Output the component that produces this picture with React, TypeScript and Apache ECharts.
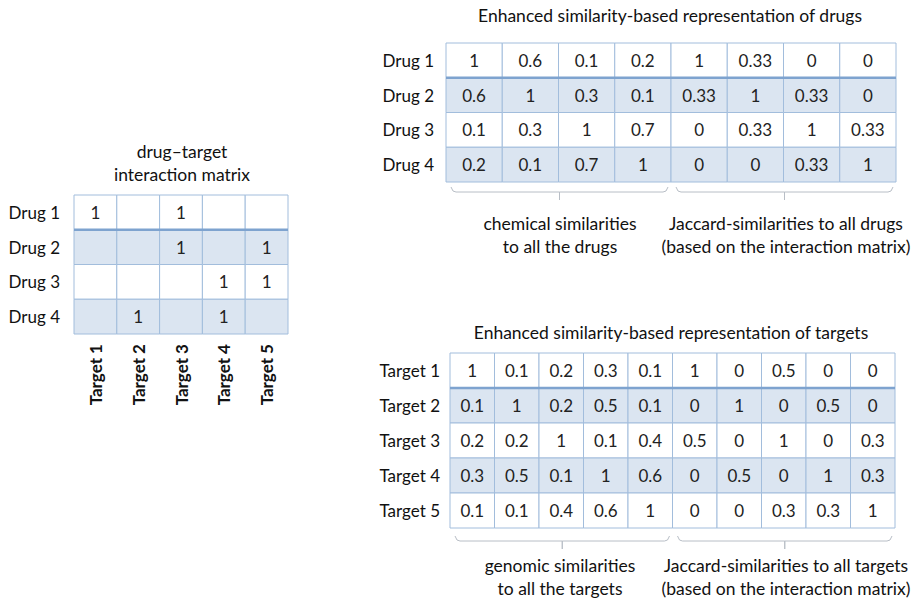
import React, { useEffect, useRef } from 'react';
import * as echarts from 'echarts';

const drugs = ['Drug 1', 'Drug 2', 'Drug 3', 'Drug 4'];
const targets = ['Target 1', 'Target 2', 'Target 3', 'Target 4', 'Target 5'];

// drug-target interaction matrix (0 = no interaction, shown blank)
const interaction = [
  [1, 0, 1, 0, 0],
  [0, 0, 1, 0, 1],
  [0, 0, 0, 1, 1],
  [0, 1, 0, 1, 0],
];

const drugChem = [
  [1, 0.6, 0.1, 0.2],
  [0.6, 1, 0.3, 0.1],
  [0.1, 0.3, 1, 0.7],
  [0.2, 0.1, 0.7, 1],
];
const drugJaccard = [
  [1, 0.33, 0, 0],
  [0.33, 1, 0.33, 0],
  [0, 0.33, 1, 0.33],
  [0, 0, 0.33, 1],
];
const targetGenomic = [
  [1, 0.1, 0.2, 0.3, 0.1],
  [0.1, 1, 0.2, 0.5, 0.1],
  [0.2, 0.2, 1, 0.1, 0.4],
  [0.3, 0.5, 0.1, 1, 0.6],
  [0.1, 0.1, 0.4, 0.6, 1],
];
const targetJaccard = [
  [1, 0, 0.5, 0, 0],
  [0, 1, 0, 0.5, 0],
  [0.5, 0, 1, 0, 0.3],
  [0, 0.5, 0, 1, 0.3],
  [0, 0, 0.3, 0.3, 1],
];

const FONT = 'Lato, "Noto Sans", sans-serif';
const BAND = '#dbe5f1';
const BORDER = '#a2bddc';
const THICK = '#7ea3cf';

function cells(rows: number[][]) {
  const out: number[][] = [];
  rows.forEach((row, y) => row.forEach((v, x) => out.push([x, y, v])));
  return out;
}

const grids = [
  { left: 74, top: 195, width: 214, height: 139 },
  { left: 446, top: 43, width: 450, height: 139 },
  { left: 450, top: 353, width: 445, height: 175 },
];

export default function App() {
  const ref = useRef<HTMLDivElement>(null);
  useEffect(() => {
    if (!ref.current) return;
    const chart = echarts.init(ref.current, null, { renderer: 'svg' });

    const drugCols = [...drugs.map((d) => 'chem ' + d), ...drugs.map((d) => 'jac ' + d)];
    const targetCols = [...targets.map((t) => 'gen ' + t), ...targets.map((t) => 'jac ' + t)];
    const drugRows = drugs.map((_, i) => [...drugChem[i], ...drugJaccard[i]]);
    const targetRows = targets.map((_, i) => [...targetGenomic[i], ...targetJaccard[i]]);

    const yAxisBase = {
      type: 'category' as const,
      inverse: true,
      axisLine: { show: false },
      axisTick: { show: false },
      splitLine: { show: false },
      axisLabel: { fontSize: 17, color: '#111', fontFamily: FONT, margin: 12 },
    };
    const hiddenX = {
      type: 'category' as const,
      axisLine: { show: false },
      axisTick: { show: false },
      axisLabel: { show: false },
      splitLine: { show: false },
    };

    const makeRender = (hideZero: boolean) => (params: any, api: any) => {
      const x = api.value(0);
      const y = api.value(1);
      const v = api.value(2);
      const c = api.coord([x, y]);
      const s = api.size([1, 1]);
      const txt = hideZero && v === 0 ? '' : String(v);
      return {
        type: 'group',
        children: [
          {
            type: 'rect',
            shape: { x: c[0] - s[0] / 2, y: c[1] - s[1] / 2, width: s[0], height: s[1] },
            style: { fill: y % 2 === 1 ? BAND : '#ffffff', stroke: BORDER, lineWidth: 1 },
          },
          {
            type: 'text',
            style: {
              text: txt,
              x: c[0],
              y: c[1],
              align: 'center',
              verticalAlign: 'middle',
              font: `17px ${FONT}`,
              fill: '#222',
            },
          },
        ],
      };
    };

    chart.setOption({
      animation: false,
      backgroundColor: '#ffffff',
      grid: grids.map((g) => ({ ...g, containLabel: false })),
      xAxis: [
        {
          type: 'category',
          gridIndex: 0,
          data: targets,
          axisLine: { show: false },
          axisTick: { show: false },
          splitLine: { show: false },
          axisLabel: { rotate: 90, fontSize: 17, color: '#111', fontFamily: FONT, fontWeight: 'bold', margin: 10 },
        },
        { ...hiddenX, gridIndex: 1, data: drugCols },
        { ...hiddenX, gridIndex: 2, data: targetCols },
      ],
      yAxis: [
        { ...yAxisBase, gridIndex: 0, data: drugs, axisLabel: { ...yAxisBase.axisLabel, margin: 14 } },
        { ...yAxisBase, gridIndex: 1, data: drugs, axisLabel: { ...yAxisBase.axisLabel, margin: 12 } },
        { ...yAxisBase, gridIndex: 2, data: targets, axisLabel: { ...yAxisBase.axisLabel, margin: 10 } },
      ],
      series: [
        { type: 'custom', xAxisIndex: 0, yAxisIndex: 0, data: cells(interaction), renderItem: makeRender(true) },
        { type: 'custom', xAxisIndex: 1, yAxisIndex: 1, data: cells(drugRows), renderItem: makeRender(false) },
        { type: 'custom', xAxisIndex: 2, yAxisIndex: 2, data: cells(targetRows), renderItem: makeRender(false) },
      ],
    });

    const g: any[] = [];
    const textEl = (text: string, x: number, y: number) => ({
      type: 'text',
      style: { text, x, y, align: 'center', verticalAlign: 'middle', font: `17.5px ${FONT}`, fill: '#111' },
    });
    // thick line below the first row, positioned via the axes
    grids.forEach((gr, gi) => {
      const p0 = chart.convertToPixel({ gridIndex: gi } as any, [0, 0]) as number[];
      const p1 = chart.convertToPixel({ gridIndex: gi } as any, [0, 1]) as number[];
      const yb = (p0[1] + p1[1]) / 2;
      g.push({
        type: 'line',
        z: 10,
        shape: { x1: gr.left, y1: yb, x2: gr.left + gr.width, y2: yb },
        style: { stroke: THICK, lineWidth: 2.5 },
      });
    });

    const bracket = (x1: number, x2: number, y: number) => {
      const xc = (x1 + x2) / 2;
      return {
        type: 'polyline',
        shape: {
          points: [
            [x1, y - 5], [x1 + 2, y - 1], [x1 + 5, y], [xc, y], [xc, y + 8],
            [xc, y], [x2 - 5, y], [x2 - 2, y - 1], [x2, y - 5],
          ],
        },
        style: { stroke: '#b8bec6', lineWidth: 1, fill: null },
      };
    };
    const colBoundary = (gi: number, idx: number) => {
      const a = chart.convertToPixel({ gridIndex: gi } as any, [idx - 1, 0]) as number[];
      const b = chart.convertToPixel({ gridIndex: gi } as any, [idx, 0]) as number[];
      return (a[0] + b[0]) / 2;
    };
    {
      const gr = grids[1];
      const by = gr.top + gr.height + 10;
      const mid = colBoundary(1, 4);
      g.push(bracket(gr.left + 5, mid - 3, by));
      g.push(bracket(mid + 5, gr.left + gr.width - 3, by));
    }
    {
      const gr = grids[2];
      const by = gr.top + gr.height + 13;
      const mid = colBoundary(2, 5);
      g.push(bracket(gr.left + 5, mid - 3, by));
      g.push(bracket(mid + 5, gr.left + gr.width - 3, by));
    }

    g.push(textEl('drug\u2013target', 182, 151));
    g.push(textEl('interaction matrix', 182, 174));
    g.push(textEl('Enhanced similarity-based representation of drugs', 670, 15));
    g.push(textEl('chemical similarities', 560, 223));
    g.push(textEl('to all the drugs', 560, 246));
    g.push(textEl('Jaccard-similarities to all drugs', 786, 223));
    g.push(textEl('(based on the interaction matrix)', 786, 246));
    g.push(textEl('Enhanced similarity-based representation of targets', 671, 332));
    g.push(textEl('genomic similarities', 560, 565));
    g.push(textEl('to all the targets', 560, 588));
    g.push(textEl('Jaccard-similarities to all targets', 786, 565));
    g.push(textEl('(based on the interaction matrix)', 786, 588));

    chart.setOption({ graphic: g });

    return () => chart.dispose();
  }, []);
  return (
    <div
      ref={ref}
      style={{ position: 'fixed', left: 0, top: 0, width: 918, height: 599, background: '#fff' }}
    />
  );
}
